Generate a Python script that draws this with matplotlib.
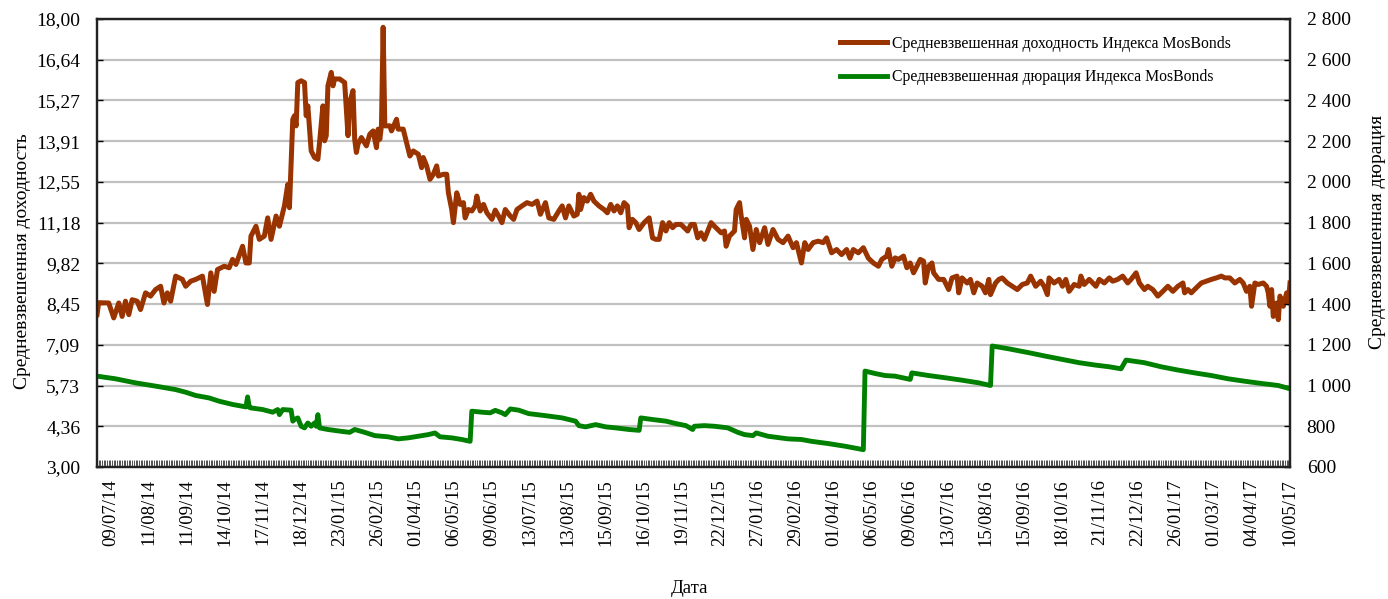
import numpy as np
import matplotlib
matplotlib.use("Agg")
import matplotlib.pyplot as plt
from matplotlib.ticker import FuncFormatter, MultipleLocator

plt.rcParams['font.family'] = ['Liberation Serif', 'DejaVu Serif']

# x axis: trading-day number, 0 = 09/07/14, 713 = 10/05/17
n_days = 714
date_labels = ["09/07/14", "11/08/14", "11/09/14", "14/10/14", "17/11/14", "18/12/14",
               "23/01/15", "26/02/15", "01/04/15", "06/05/15", "09/06/15", "13/07/15",
               "13/08/15", "15/09/15", "16/10/15", "19/11/15", "22/12/15", "27/01/16",
               "29/02/16", "01/04/16", "06/05/16", "09/06/16", "13/07/16", "15/08/16",
               "15/09/16", "18/10/16", "21/11/16", "22/12/16", "26/01/17", "01/03/17",
               "04/04/17", "10/05/17"]

# weighted average yield, % (left axis)
yield_day = [0, 1, 7, 10, 13, 15, 17, 19, 21, 24, 26, 29, 32, 35, 38, 40, 42, 44, 47, 51,
             53, 56, 59, 63, 66, 68, 70, 72, 76, 79, 81, 83, 87, 89, 91, 92, 95, 97, 100, 102,
             104, 107, 109, 112, 114, 115, 117, 118, 119, 120, 122, 124, 125, 126, 128, 130,
             132, 133, 135, 136, 137, 138, 140, 141, 142, 145, 148, 150, 151, 153, 154, 155,
             156, 158, 161, 163, 165, 167, 168, 169, 170, 171, 172, 173, 175, 176, 179, 180,
             183, 185, 187, 189, 192, 194, 195, 197, 199, 201, 203, 204, 207, 209, 210, 212,
             213, 215, 217, 219, 220, 222, 224, 226, 227, 229, 231, 233, 236, 238, 240, 242,
             244, 247, 249, 251, 254, 257, 260, 263, 265, 268, 270, 273, 276, 278, 280, 282,
             285, 287, 288, 289, 291, 293, 295, 297, 300, 303, 305, 307, 309, 311, 313, 315,
             317, 318, 320, 322, 324, 327, 330, 332, 334, 336, 338, 340, 342, 344, 346, 349,
             351, 353, 355, 357, 359, 361, 363, 365, 367, 369, 371, 373, 375, 376, 378, 380,
             381, 382, 384, 385, 387, 388, 390, 392, 394, 396, 399, 401, 404, 407, 410, 413,
             416, 418, 421, 423, 425, 428, 431, 434, 436, 439, 442, 445, 448, 450, 452, 455,
             458, 461, 464, 467, 469, 472, 473, 475, 477, 479, 482, 484, 486, 488, 490, 492,
             494, 495, 497, 499, 500, 503, 506, 509, 511, 514, 515, 517, 520, 522, 524, 526,
             529, 531, 533, 534, 537, 539, 541, 544, 547, 550, 553, 556, 558, 561, 564, 566,
             568, 569, 572, 575, 577, 579, 581, 584, 587, 588, 590, 593, 597, 599, 602, 605,
             607, 610, 613, 616, 618, 621, 623, 626, 628, 631, 634, 637, 640, 643, 646, 649,
             650, 652, 654, 657, 660, 663, 666, 669, 672, 674, 677, 680, 683, 685, 687, 689,
             690, 692, 694, 697, 699, 700, 701, 702, 703, 705, 706, 707, 709, 711, 712, 713]
yield_pct = [8.10, 8.50, 8.49, 7.99, 8.49, 8.04, 8.55, 8.10, 8.60, 8.55, 8.27, 8.83, 8.72, 8.94,
             9.05, 8.49, 8.83, 8.55, 9.39, 9.28, 9.05, 9.22, 9.28, 9.39, 8.44, 9.50, 8.88, 9.61,
             9.72, 9.67, 9.95, 9.78, 10.39, 9.83, 9.83, 10.73, 11.06, 10.62, 10.73, 11.34,
             10.62, 11.40, 11.06, 11.74, 12.46, 11.68, 14.64, 14.76, 14.42, 15.87, 15.93, 15.87,
             14.76, 15.09, 13.58, 13.36, 13.30, 13.86, 15.09, 13.92, 14.09, 15.76, 16.21, 15.76,
             15.99, 15.99, 15.87, 14.09, 15.20, 15.60, 13.97, 13.53, 13.81, 14.03, 13.75, 14.14,
             14.25, 13.69, 14.31, 13.97, 14.42, 17.72, 14.42, 14.42, 14.42, 14.25, 14.64, 14.31,
             14.31, 13.86, 13.41, 13.58, 13.47, 13.02, 13.36, 13.08, 12.63, 12.80, 13.08, 12.74,
             12.80, 12.80, 12.18, 11.62, 11.18, 12.18, 11.79, 11.85, 11.34, 11.62, 11.57, 11.74,
             12.07, 11.57, 11.79, 11.51, 11.29, 11.60, 11.40, 11.18, 11.62, 11.40, 11.29, 11.62,
             11.74, 11.85, 11.79, 11.90, 11.46, 11.85, 11.34, 11.29, 11.57, 11.74, 11.34, 11.74,
             11.40, 11.46, 12.13, 11.62, 12.02, 11.90, 12.13, 11.90, 11.74, 11.62, 11.51, 11.79,
             11.57, 11.74, 11.51, 11.85, 11.74, 11.01, 11.29, 11.18, 10.95, 11.18, 11.34, 10.67,
             10.62, 10.62, 11.18, 10.90, 11.18, 11.01, 11.12, 11.12, 11.01, 10.90, 11.12, 11.12,
             10.67, 10.84, 10.62, 10.90, 11.18, 11.06, 10.95, 10.84, 10.90, 10.39, 10.73, 10.84,
             10.90, 11.62, 11.85, 11.40, 10.67, 11.29, 11.06, 10.28, 10.95, 10.51, 11.01, 10.45,
             10.95, 10.62, 10.51, 10.73, 10.34, 10.51, 9.83, 10.51, 10.28, 10.51, 10.56, 10.51,
             10.67, 10.17, 10.28, 10.11, 10.28, 9.99, 10.28, 10.17, 10.34, 9.99, 9.83, 9.72,
             9.95, 10.06, 10.28, 9.72, 10.00, 9.95, 10.06, 9.67, 9.83, 9.50, 9.72, 9.95, 9.89,
             9.16, 9.72, 9.83, 9.50, 9.28, 9.28, 8.94, 9.33, 9.39, 8.83, 9.33, 9.16, 9.28, 8.83,
             9.16, 9.05, 8.83, 9.28, 8.77, 9.16, 9.28, 9.33, 9.16, 9.05, 8.94, 9.11, 9.16, 9.39,
             9.05, 9.22, 9.05, 8.77, 9.33, 9.16, 9.28, 9.05, 9.28, 8.88, 9.11, 9.05, 9.39, 9.11,
             9.28, 9.05, 9.28, 9.16, 9.33, 9.22, 9.28, 9.39, 9.16, 9.28, 9.50, 9.16, 8.94, 9.05,
             8.94, 8.72, 8.88, 9.05, 8.88, 9.05, 9.16, 8.83, 8.94, 8.83, 9.00, 9.16, 9.22, 9.28,
             9.33, 9.39, 9.33, 9.33, 9.16, 9.28, 9.16, 8.88, 9.05, 8.38, 9.16, 9.11, 9.16, 9.05,
             8.83, 8.38, 8.94, 8.04, 8.49, 7.93, 8.72, 8.38, 8.83, 8.49, 9.16]

# weighted average duration, days (right axis)
dur_day = [0, 11, 23, 35, 47, 53, 59, 67, 73, 81, 87, 89, 90, 91, 92, 99, 105, 108, 109, 111,
           116, 117, 118, 120, 122, 124, 126, 128, 130, 131, 132, 133, 138, 146, 151, 154, 160,
           166, 170, 174, 180, 186, 192, 198, 202, 205, 212, 218, 223, 224, 230, 235, 238, 242,
           244, 247, 252, 258, 268, 278, 286, 288, 292, 298, 304, 310, 318, 324, 325, 332, 340,
           346, 352, 356, 357, 363, 369, 377, 383, 387, 392, 394, 401, 413, 421, 427, 437, 447,
           458, 459, 465, 471, 477, 486, 487, 497, 507, 517, 527, 534, 535, 545, 557, 567, 577,
           587, 597, 605, 612, 615, 626, 636, 646, 656, 666, 676, 686, 696, 706, 713]
dur_val = [1046, 1033, 1013, 997, 980, 967, 951, 939, 923, 907, 898, 895, 944, 893, 890, 882,
           869, 882, 857, 882, 879, 825, 833, 841, 800, 792, 816, 800, 816, 800, 857, 792, 784,
           775, 770, 784, 770, 754, 751, 748, 738, 743, 751, 759, 767, 748, 743, 735, 726, 874,
           869, 866, 878, 866, 857, 885, 879, 862, 852, 841, 825, 803, 797, 808, 797, 792, 784,
           780, 841, 833, 825, 813, 803, 784, 800, 803, 800, 792, 770, 759, 754, 767, 751, 738,
           735, 726, 715, 702, 685, 1071, 1059, 1049, 1046, 1030, 1062, 1049, 1038, 1026, 1013,
           1000, 1194, 1180, 1161, 1144, 1128, 1112, 1100, 1092, 1082, 1125, 1112, 1092, 1076,
           1062, 1049, 1033, 1021, 1010, 1000, 984]

yield_ticks = np.linspace(3, 18, 12)
dur_ticks = np.arange(600, 2801, 200)

fig = plt.figure(figsize=(13.88, 5.99), dpi=100)
ax = fig.add_axes([0.0699, 0.2204, 0.8595, 0.748])
ax2 = ax.twinx()

l1, = ax.plot(yield_day, yield_pct, color="#993300", lw=3.6, solid_joinstyle="round",
              label="Средневзвешенная доходность Индекса MosBonds", zorder=3)
l2, = ax2.plot(dur_day, dur_val, color="#008000", lw=3.5, solid_joinstyle="round",
               label="Средневзвешенная дюрация Индекса MosBonds")

ax.set_xlim(0, n_days - 1)
ax.set_ylim(3, 18)
ax2.set_ylim(600, 2800)
ax.set_yticks(yield_ticks)
ax2.set_yticks(dur_ticks)
ax.yaxis.set_major_formatter(FuncFormatter(lambda v, p: f"{v:.2f}".replace(".", ",")))
ax2.yaxis.set_major_formatter(FuncFormatter(lambda v, p: f"{int(round(v)):,}".replace(",", " ")))

ax.set_xticks(np.linspace(8.4, n_days - 1, len(date_labels)))
ax.set_xticklabels(date_labels, rotation=90, fontsize=13.5)
ax.xaxis.set_minor_locator(MultipleLocator(1))

ax.grid(axis="y", color="#c0c0c0", lw=1.6)
ax.set_axisbelow(True)

ax.tick_params(axis="y", direction="in", length=4, width=1, labelsize=14, pad=12)
ax2.tick_params(axis="y", direction="in", length=4, width=1, labelsize=14, pad=12)
ax.tick_params(axis="x", which="major", direction="in", length=0, pad=9)
ax.tick_params(axis="x", which="minor", direction="in", length=5, width=0.6, color="#333333")

for a in (ax, ax2):
    for s in a.spines.values():
        s.set_linewidth(1.6)
        s.set_color("#222222")

ax.set_ylabel("Средневзвешенная доходность", fontsize=14)
ax.yaxis.set_label_coords(-0.055, 0.46)
ax2.set_ylabel("Средневзвешенная дюрация", fontsize=14)
ax2.yaxis.set_label_coords(1.066, 0.525)
ax.set_xlabel("Дата", fontsize=13.5)
ax.xaxis.set_label_coords(0.497, -0.252)

ax.legend(handles=[l1, l2], loc="upper left", bbox_to_anchor=(0.623, 0.962), frameon=False,
          fontsize=11.3, handlelength=3.0, handletextpad=0.3, labelspacing=1.1,
          borderpad=0, borderaxespad=0)

fig.savefig("out.png", dpi=100)
